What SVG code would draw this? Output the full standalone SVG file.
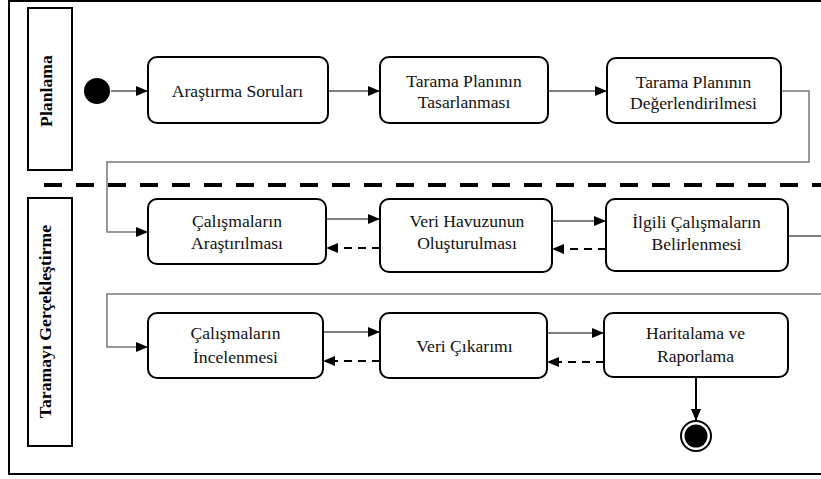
<svg xmlns="http://www.w3.org/2000/svg" width="821" height="479" viewBox="0 0 821 479">
<style>
.box{fill:#fff;stroke:#000;stroke-width:2}
.t{font-size:17.6px;fill:#111;text-anchor:middle}
.lane{font-size:17.7px;font-weight:bold;fill:#000;text-anchor:middle}
.c{fill:none;stroke:#000;stroke-width:1.2}
.g{fill:none;stroke:#777;stroke-width:1.5}
.d{fill:none;stroke:#000;stroke-width:2;stroke-dasharray:8 6}
</style>
<defs>
<marker id="ah" viewBox="0 0 12 10" refX="12" refY="5" markerWidth="12" markerHeight="10" markerUnits="userSpaceOnUse" orient="auto">
<path d="M0,0 L12,5 L0,10 Z" fill="#000"/>
</marker>
</defs>
<g font-family="Liberation Serif, Times New Roman, serif">
<rect x="9" y="1" width="830" height="473" fill="#fff" stroke="#000" stroke-width="2"/>
<g id="lane-planlama">
<rect x="28" y="8" width="44" height="162" fill="#fff" stroke="#000" stroke-width="2"/>
<text class="lane" transform="translate(52,91) rotate(-90)">Planlama</text>
</g>
<g id="lane-tarama">
<rect x="28" y="198" width="44" height="248" fill="#fff" stroke="#000" stroke-width="2"/>
<text class="lane" transform="translate(51,321.5) rotate(-90)">Taramayı Gerçekleştirme</text>
</g>
<line x1="44" y1="185" x2="821" y2="185" stroke="#000" stroke-width="4" stroke-dasharray="18 14"/>
<g id="connectors">
<line class="c" x1="111" y1="91" x2="148" y2="91" marker-end="url(#ah)"/>
<line class="c" x1="328" y1="91" x2="380" y2="91" marker-end="url(#ah)"/>
<line class="c" x1="548" y1="91" x2="607" y2="91" marker-end="url(#ah)"/>
<polyline class="g" points="781,91 809,91 809,162 107,162 107,232 148,232" marker-end="url(#ah)"/>
<line class="c" x1="326" y1="219" x2="380" y2="219" marker-end="url(#ah)"/>
<line class="d" x1="380" y1="248" x2="326" y2="248" marker-end="url(#ah)"/>
<line class="c" x1="552" y1="221" x2="606" y2="221" marker-end="url(#ah)"/>
<line class="d" x1="606" y1="249" x2="552" y2="249" marker-end="url(#ah)"/>
<line class="c" x1="788" y1="236" x2="821" y2="236"/>
<polyline class="g" points="821,294 107,294 107,347 148,347" marker-end="url(#ah)"/>
<line class="c" x1="323" y1="332" x2="380" y2="332" marker-end="url(#ah)"/>
<line class="d" x1="380" y1="361" x2="323" y2="361" marker-end="url(#ah)"/>
<line class="c" x1="547" y1="333" x2="604" y2="333" marker-end="url(#ah)"/>
<line class="d" x1="604" y1="362" x2="547" y2="362" marker-end="url(#ah)"/>
<line x1="696" y1="377" x2="696" y2="421" stroke="#000" stroke-width="2" marker-end="url(#ah)"/>
</g>
<g id="start"><circle cx="97" cy="91" r="13" fill="#000"/></g>
<g id="n1"><rect class="box" x="148" y="57" width="180" height="66" rx="9"/><text class="t" x="237.5" y="97">Araştırma Soruları</text></g>
<g id="n2"><rect class="box" x="380" y="57" width="168" height="66" rx="9"/><text class="t" x="464" y="87">Tarama Planının</text><text class="t" x="464" y="108">Tasarlanması</text></g>
<g id="n3"><rect class="box" x="607" y="58" width="174" height="65" rx="9"/><text class="t" x="693.5" y="87.5">Tarama Planının</text><text class="t" x="693.5" y="109">Değerlendirilmesi</text></g>
<g id="n4"><rect class="box" x="148" y="199" width="178" height="65" rx="9"/><text class="t" x="237" y="226.5">Çalışmaların</text><text class="t" x="237" y="249">Araştırılması</text></g>
<g id="n5"><rect class="box" x="380" y="199" width="172" height="73" rx="9"/><text class="t" x="467" y="226.5">Veri Havuzunun</text><text class="t" x="467" y="249">Oluşturulması</text></g>
<g id="n6"><rect class="box" x="606" y="199" width="182" height="72" rx="9"/><text class="t" x="696.5" y="227.5">İlgili Çalışmaların</text><text class="t" x="696.5" y="250">Belirlenmesi</text></g>
<g id="n7"><rect class="box" x="148" y="313" width="175" height="65" rx="9"/><text class="t" x="235.5" y="339">Çalışmaların</text><text class="t" x="235.5" y="362.5">İncelenmesi</text></g>
<g id="n8"><rect class="box" x="380" y="313" width="167" height="65" rx="9"/><text class="t" x="464.5" y="352">Veri Çıkarımı</text></g>
<g id="n9"><rect class="box" x="604" y="313" width="184" height="64" rx="9"/><text class="t" x="695.5" y="339">Haritalama ve</text><text class="t" x="695.5" y="362">Raporlama</text></g>
<g id="end"><circle cx="696" cy="436" r="15" fill="#fff" stroke="#000" stroke-width="2"/><circle cx="696" cy="436" r="11.5" fill="#000"/></g>
</g>
</svg>
